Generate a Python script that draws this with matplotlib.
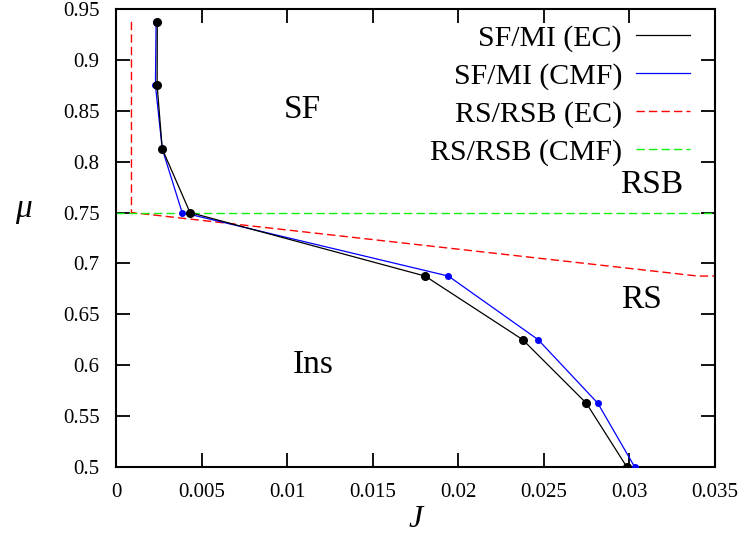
import numpy as np
import matplotlib
matplotlib.use('Agg')
import matplotlib.pyplot as plt

plt.rcParams['font.family'] = ['Liberation Serif', 'DejaVu Serif']

# SF/MI boundary, mu values at 1/16 steps
mu = [0.9375, 0.875, 0.8125, 0.75, 0.6875, 0.625, 0.5625, 0.5]
J_ec = [0.00241, 0.0024, 0.0027, 0.00432, 0.01806, 0.02376, 0.02748, 0.02984]
J_cmf = [0.00234, 0.0023, 0.0027, 0.00386, 0.01942, 0.02466, 0.02815, 0.0303]

# RS/RSB boundaries
rsb_ec_J = [0.0009, 0.0009, 0.034, 0.035]
rsb_ec_mu = [0.9375, 0.75, 0.6875, 0.6875]
rsb_cmf_J = [0.0, 0.035]
rsb_cmf_mu = [0.75, 0.75]

regions = ['SF', 'Ins', 'RSB', 'RS']
region_J = [0.0109, 0.0115, 0.0313, 0.0307]
region_mu = [0.851, 0.600, 0.777, 0.664]

fig = plt.figure(figsize=(7.44, 5.38), dpi=100)
ax = fig.add_axes([0.156, 0.1325, 0.805, 0.8505])

ax.plot(J_ec, mu, color='black', lw=0.9, marker='o', ms=5.5, label='SF/MI (EC)', zorder=4)
ax.plot(J_cmf, mu, color='blue', lw=0.9, marker='o', ms=4, label='SF/MI (CMF)', zorder=3)
ax.plot(rsb_ec_J, rsb_ec_mu, color='red', lw=1, dashes=(6, 3), label='RS/RSB (EC)', zorder=2)
ax.plot(rsb_cmf_J, rsb_cmf_mu, color='#11ee11', lw=1, dashes=(6, 3), label='RS/RSB (CMF)', zorder=2)

for name, x, y in zip(regions, region_J, region_mu):
    ax.text(x, y, name, fontsize=24, ha='center', va='center')

ax.set_xlim(0, 0.035)
ax.set_ylim(0.5, 0.95)
ax.set_xticks(np.arange(0, 0.0351, 0.005))
ax.set_yticks(np.arange(0.5, 0.951, 0.05))
ax.xaxis.set_major_formatter(plt.FormatStrFormatter('%g'))
ax.yaxis.set_major_formatter(plt.FormatStrFormatter('%g'))
ax.tick_params(direction='in', length=10, width=1.3, top=True, right=True,
               labelsize=15, pad=12)
for s in ax.spines.values():
    s.set_linewidth(1.5)

ax.set_xlabel('J', fontsize=23, fontstyle='italic')
ax.xaxis.set_label_coords(0.5, -0.083)
ax.set_ylabel('μ', fontsize=24, fontstyle='italic', rotation=0)
ax.yaxis.set_label_coords(-0.155, 0.53)

leg = ax.legend(loc='upper right', frameon=False, markerfirst=False, fontsize=21.5,
                handlelength=1.8, handletextpad=0.47, labelspacing=0.36,
                borderaxespad=0, borderpad=0, bbox_to_anchor=(0.958, 0.966))
for h in leg.legend_handles:
    h.set_marker('')

fig.savefig('out.png', dpi=100)
